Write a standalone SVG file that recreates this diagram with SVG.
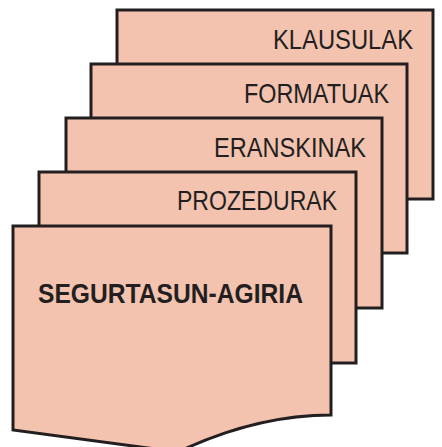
<svg xmlns="http://www.w3.org/2000/svg" width="442" height="447" viewBox="0 0 442 447">
<style>
.pg{fill:#F3C3AF;stroke:#231F20;stroke-width:3;stroke-linejoin:miter}
.t{font-family:"Liberation Sans",Arial,sans-serif;font-size:28px;fill:#231F20}
.b{font-weight:bold}
</style>
<rect width="442" height="447" fill="#FFFFFF"/>
<g id="klausulak">
<rect class="pg" x="117" y="10" width="316" height="189"/>
<text class="t" x="413" y="49" text-anchor="end" textLength="140" lengthAdjust="spacingAndGlyphs">KLAUSULAK</text>
</g>
<g id="formatuak">
<rect class="pg" x="91" y="64" width="316" height="189"/>
<text class="t" x="389" y="103" text-anchor="end" textLength="145" lengthAdjust="spacingAndGlyphs">FORMATUAK</text>
</g>
<g id="eranskinak">
<rect class="pg" x="66" y="118" width="316" height="190"/>
<text class="t" x="366" y="157" text-anchor="end" textLength="152" lengthAdjust="spacingAndGlyphs">ERANSKINAK</text>
</g>
<g id="prozedurak">
<rect class="pg" x="39" y="172" width="317" height="191"/>
<text class="t" x="337" y="210" text-anchor="end" textLength="160" lengthAdjust="spacingAndGlyphs">PROZEDURAK</text>
</g>
<g id="segurtasun-agiria">
<path class="pg" d="M13,226 L331,226 L331,415 C285,415 235,425 178,452 L13,430 Z"/>
<text class="t b" x="38" y="303" textLength="265" lengthAdjust="spacingAndGlyphs">SEGURTASUN-AGIRIA</text>
</g>
<g id="connectors"/>
</svg>
